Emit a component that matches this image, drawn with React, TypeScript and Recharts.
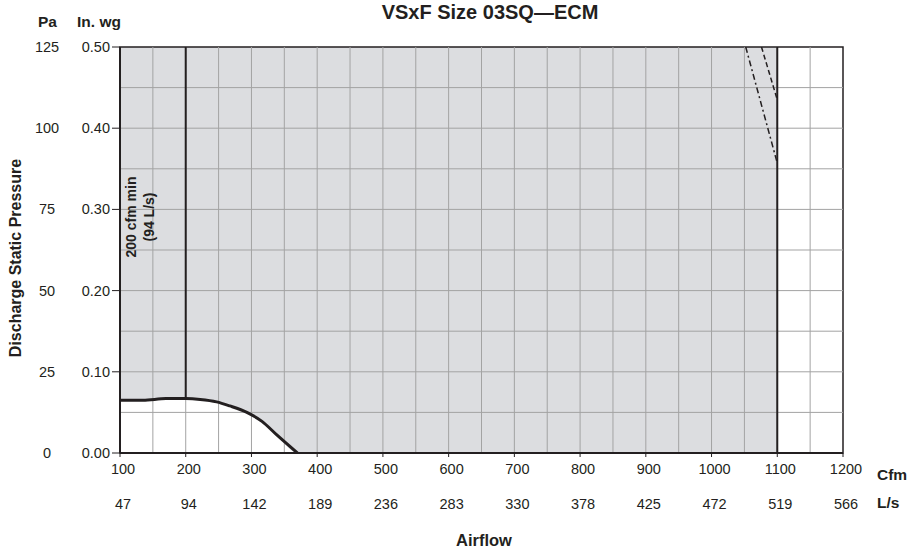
import React from "react";
import { ComposedChart, Area, Line, XAxis, YAxis, ReferenceLine, ReferenceArea } from "recharts";

const cfmTicks = [100, 200, 300, 400, 500, 600, 700, 800, 900, 1000, 1100, 1200];
const lpsLabels = ["47", "94", "142", "189", "236", "283", "330", "378", "425", "472", "519", "566"];
const inWgTicks = [0, 0.1, 0.2, 0.3, 0.4, 0.5];
const paLabels = ["0", "25", "50", "75", "100", "125"];
const gridCfm = [150, 200, 250, 300, 350, 400, 450, 500, 550, 600, 650, 700, 750, 800, 850, 900, 950, 1000, 1050, 1100, 1150];
const gridInWg = [0.05, 0.1, 0.15, 0.2, 0.25, 0.3, 0.35, 0.4, 0.45];

// lower edge of the operating range (min fan speed)
const curveCfm = [100, 135, 170, 200, 222, 247, 267, 293, 316, 339, 370];
const curveInWg = [0.065, 0.065, 0.067, 0.067, 0.066, 0.063, 0.058, 0.05, 0.039, 0.022, 0];

const minCfm = 200;
const maxCfm = 1100;
const topInWg = 0.5;

// dashed limit lines near the top right
const dashACfm = [1052, 1100];
const dashAInWg = [0.5, 0.357];
const dashBCfm = [1076, 1100];
const dashBInWg = [0.5, 0.435];

const font = "'Liberation Sans', Arial, sans-serif";
const ink = "#231f20";
const gridColor = "#a3a3a3";

const curveData = curveCfm.map((c, i) => ({ cfm: c, inwg: curveInWg[i] }));
const bandData = [
  ...curveData.map((d) => ({ cfm: d.cfm, band: [d.inwg, topInWg] })),
  { cfm: maxCfm, band: [0, topInWg] },
];
const minLine = [
  { cfm: minCfm, inwg: curveInWg[curveCfm.indexOf(minCfm)] },
  { cfm: minCfm, inwg: topInWg },
];
const maxLine = [
  { cfm: maxCfm, inwg: 0 },
  { cfm: maxCfm, inwg: topInWg },
];
const dashA = dashACfm.map((c, i) => ({ cfm: c, inwg: dashAInWg[i] }));
const dashB = dashBCfm.map((c, i) => ({ cfm: c, inwg: dashBInWg[i] }));

const CfmTick = (props: any) => {
  const { x, y, payload } = props;
  const i = cfmTicks.indexOf(payload.value);
  return (
    <g>
      <text x={x + 3} y={y + 15} textAnchor="middle" fontSize={14.5} fill={ink} fontFamily={font}>
        {payload.value}
      </text>
      <text x={x + 3} y={y + 50} textAnchor="middle" fontSize={14.5} fill={ink} fontFamily={font}>
        {lpsLabels[i]}
      </text>
    </g>
  );
};

const PressureTick = (props: any) => {
  const { x, y, payload } = props;
  const i = inWgTicks.indexOf(payload.value);
  return (
    <g>
      <text x={x} y={y + 5} textAnchor="end" fontSize={14.5} fill={ink} fontFamily={font}>
        {payload.value.toFixed(2)}
      </text>
      <text x={x - 63} y={y + 5} textAnchor="middle" fontSize={14.5} fill={ink} fontFamily={font}>
        {paLabels[i]}
      </text>
    </g>
  );
};

const label = (style: React.CSSProperties): React.CSSProperties => ({
  position: "absolute",
  fontFamily: font,
  fontWeight: "bold",
  color: ink,
  whiteSpace: "nowrap",
  lineHeight: 1,
  ...style,
});

export default function App() {
  return (
    <div style={{ position: "absolute", left: 0, top: 0, width: 924, height: 554, background: "#fff" }}>
      <ComposedChart width={924} height={554} margin={{ top: 47, right: 81, bottom: 0, left: 0 }}>
        <XAxis
          dataKey="cfm"
          type="number"
          domain={[100, 1200]}
          ticks={cfmTicks}
          interval={0}
          height={101}
          tickSize={4}
          tick={<CfmTick />}
          axisLine={{ stroke: ink, strokeWidth: 2 }}
          tickLine={{ stroke: ink }}
          allowDataOverflow
        />
        <YAxis
          type="number"
          domain={[0, 0.5]}
          ticks={inWgTicks}
          interval={0}
          width={120}
          tickSize={8}
          tick={<PressureTick />}
          axisLine={{ stroke: ink, strokeWidth: 2 }}
          tickLine={{ stroke: ink }}
          allowDataOverflow
        />
        <Area
          data={bandData}
          dataKey="band"
          type="monotone"
          fill="#dcdde0"
          fillOpacity={1}
          stroke="none"
          isAnimationActive={false}
        />
        {gridCfm.map((c) => (
          <ReferenceLine key={"gx" + c} x={c} stroke={gridColor} strokeWidth={1} />
        ))}
        {gridInWg.map((v) => (
          <ReferenceLine key={"gy" + v} y={v} stroke={gridColor} strokeWidth={1} />
        ))}
        <ReferenceArea x1={100} x2={1200} y1={0} y2={topInWg} fill="none" stroke={ink} strokeWidth={1.5} />
        <Line data={minLine} dataKey="inwg" type="linear" stroke={ink} strokeWidth={2} dot={false} isAnimationActive={false} />
        <Line data={maxLine} dataKey="inwg" type="linear" stroke={ink} strokeWidth={2} dot={false} isAnimationActive={false} />
        <Line data={dashA} dataKey="inwg" type="linear" stroke={ink} strokeWidth={1.5} strokeDasharray="6 3 2 3" dot={false} isAnimationActive={false} />
        <Line data={dashB} dataKey="inwg" type="linear" stroke={ink} strokeWidth={1.5} strokeDasharray="5 3" dot={false} isAnimationActive={false} />
        <Line data={curveData} dataKey="inwg" type="monotone" stroke={ink} strokeWidth={3} dot={false} isAnimationActive={false} />
      </ComposedChart>

      <div style={label({ left: 0, width: 980, top: 2, textAlign: "center", fontSize: 20 })}>VSxF Size 03SQ—ECM</div>
      <div style={label({ left: 38, top: 14, fontSize: 15.5 })}>Pa</div>
      <div style={label({ left: 77, top: 14, fontSize: 15.5 })}>In. wg</div>
      <div
        style={label({
          left: 16,
          top: 258,
          fontSize: 16,
          transform: "translate(-50%, -50%) rotate(-90deg)",
        })}
      >
        Discharge Static Pressure
      </div>
      <div
        style={label({
          left: 140,
          top: 217,
          fontSize: 14,
          textAlign: "center",
          lineHeight: "18px",
          transform: "translate(-50%, -50%) rotate(-90deg)",
        })}
      >
        200 cfm min
        <br />
        (94 L/s)
      </div>
      <div style={label({ left: 877, top: 467, fontSize: 15.5 })}>Cfm</div>
      <div style={label({ left: 877, top: 495, fontSize: 15.5 })}>L/s</div>
      <div style={label({ left: 0, width: 968, top: 532, textAlign: "center", fontSize: 16.5 })}>Airflow</div>
    </div>
  );
}
